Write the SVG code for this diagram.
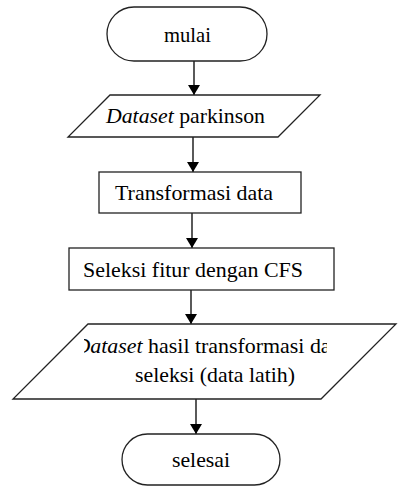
<svg xmlns="http://www.w3.org/2000/svg" width="398" height="486" viewBox="0 0 398 486">
  <defs>
    <marker id="arrow" viewBox="0 0 10 12" refX="10" refY="6" markerWidth="10" markerHeight="12" markerUnits="userSpaceOnUse" orient="auto">
      <path d="M0,0 L10,6 L0,12 Z" fill="#000"/>
    </marker>
    <clipPath id="clip-out">
      <rect x="84" y="330" width="243" height="70"/>
    </clipPath>
  </defs>
  <style>
    .shape { fill: #fff; stroke: #222; stroke-width: 1.3; }
    .label { font-size: 21px; fill: #000; }
    .conn { stroke: #000; stroke-width: 1.3; fill: none; }
  </style>
  <rect width="398" height="486" fill="#fff"/>

  <g id="connectors">
    <line class="conn" x1="194" y1="61" x2="194" y2="95" marker-end="url(#arrow)"/>
    <line class="conn" x1="193" y1="137" x2="193" y2="172" marker-end="url(#arrow)"/>
    <line class="conn" x1="192" y1="213" x2="192" y2="248" marker-end="url(#arrow)"/>
    <line class="conn" x1="191" y1="290" x2="191" y2="324" marker-end="url(#arrow)"/>
    <line class="conn" x1="196" y1="399" x2="196" y2="434" marker-end="url(#arrow)"/>
  </g>

  <g font-family="Liberation Serif, Times New Roman, DejaVu Serif, serif">
    <g id="start">
      <rect class="shape" x="107" y="7" width="160" height="54" rx="27" ry="27"/>
      <text class="label" x="164" y="42" textLength="47" lengthAdjust="spacingAndGlyphs">mulai</text>
    </g>

    <g id="input-dataset">
      <polygon class="shape" points="110,95 320,95 278,137 68,137"/>
      <text class="label" x="106" y="123" textLength="159" lengthAdjust="spacingAndGlyphs"><tspan font-style="italic">Dataset</tspan> parkinson</text>
    </g>

    <g id="transform">
      <rect class="shape" x="99" y="172" width="202" height="41"/>
      <text class="label" x="115" y="200" textLength="158" lengthAdjust="spacingAndGlyphs">Transformasi data</text>
    </g>

    <g id="cfs">
      <rect class="shape" x="69" y="248" width="265" height="42"/>
      <text class="label" x="83" y="277" textLength="220" lengthAdjust="spacingAndGlyphs">Seleksi fitur dengan CFS</text>
    </g>

    <g id="output-dataset">
      <polygon class="shape" points="88,324 396,324 321,399 13,399"/>
      <g clip-path="url(#clip-out)">
        <text class="label" x="74.5" y="353" textLength="267" lengthAdjust="spacingAndGlyphs"><tspan font-style="italic">Dataset</tspan> hasil transformasi dan</text>
      </g>
      <text class="label" x="135" y="382" textLength="160" lengthAdjust="spacingAndGlyphs">seleksi (data latih)</text>
    </g>

    <g id="end">
      <rect class="shape" x="122" y="434" width="158" height="51" rx="25.5" ry="25.5"/>
      <text class="label" x="172" y="467" textLength="58" lengthAdjust="spacingAndGlyphs">selesai</text>
    </g>
  </g>
</svg>
